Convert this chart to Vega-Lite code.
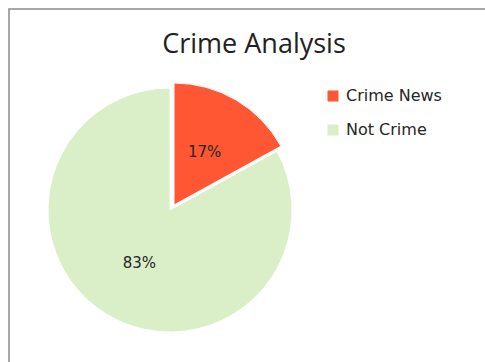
{
  "$schema": "https://vega.github.io/schema/vega-lite/v6.json",
  "width": 476,
  "height": 353,
  "autosize": {"type": "none"},
  "padding": {"left": 9, "top": 9, "right": 0, "bottom": 0},
  "background": "white",
  "view": {"stroke": "#8c8c8c", "strokeWidth": 1.5, "strokeDash": [476, 829, 353]},
  "title": {"text": "Crime Analysis", "font": "Open Sans", "fontSize": 27, "fontWeight": "normal", "color": "#222222", "anchor": "middle", "frame": "group", "dx": 7, "offset": -71, "baseline": "alphabetic"},
  "data": {"values": [
    {"category": "Crime News", "value": 17, "label": "17%"},
    {"category": "Not Crime", "value": 83, "label": "83%"}
  ]},
  "encoding": {
    "theta": {"field": "value", "type": "quantitative", "stack": true},
    "color": {
      "field": "category", "type": "nominal",
      "scale": {"domain": ["Crime News", "Not Crime"], "range": ["#FF5733", "#DAEFC8"]},
      "legend": {"orient": "none", "legendX": 316, "legendY": 79, "title": null, "symbolType": "square", "symbolSize": 121, "symbolStrokeWidth": 0, "labelFont": "DejaVu Sans", "labelFontSize": 16, "labelColor": "#262626", "rowPadding": 18, "labelOffset": 5, "padding": 0}
    }
  },
  "layer": [
    {
      "mark": {"type": "arc", "radius": 122, "xOffset": -77, "yOffset": 24.5, "stroke": "white", "strokeWidth": 1},
      "encoding": {"opacity": {"condition": {"test": "datum.category === 'Crime News'", "value": 0}, "value": 1}}
    },
    {
      "mark": {"type": "arc", "radius": 122, "xOffset": -73, "yOffset": 19.5, "stroke": "white", "strokeWidth": 1},
      "encoding": {"opacity": {"condition": {"test": "datum.category === 'Not Crime'", "value": 0}, "value": 1}}
    },
    {
      "mark": {"type": "text", "radius": 64, "dx": -75, "dy": 22, "font": "DejaVu Sans", "fontSize": 15, "color": "#262626"},
      "encoding": {"text": {"field": "label", "type": "nominal"}, "color": {"value": "#262626"}}
    }
  ]
}
